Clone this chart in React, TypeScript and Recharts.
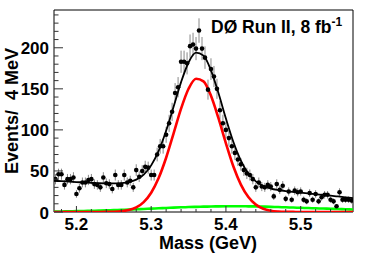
import React from 'react';
import { ComposedChart, Scatter, Line, XAxis, YAxis, ErrorBar, ReferenceArea } from 'recharts';

// Histogram bin centres (GeV), 4 MeV bins
const binCenters = [
  5.172, 5.176, 5.180, 5.184, 5.188, 5.192, 5.196, 5.200, 5.204, 5.208,
  5.212, 5.216, 5.220, 5.224, 5.228, 5.232, 5.236, 5.240, 5.244, 5.248,
  5.252, 5.256, 5.260, 5.264, 5.268, 5.272, 5.276, 5.280, 5.284, 5.288,
  5.292, 5.296, 5.300, 5.304, 5.308, 5.312, 5.316, 5.320, 5.324, 5.328,
  5.332, 5.336, 5.340, 5.344, 5.348, 5.352, 5.356, 5.360, 5.364, 5.368,
  5.372, 5.376, 5.380, 5.384, 5.388, 5.392, 5.396, 5.400, 5.404, 5.408,
  5.412, 5.416, 5.420, 5.424, 5.428, 5.432, 5.436, 5.440, 5.444, 5.448,
  5.452, 5.456, 5.460, 5.464, 5.468, 5.472, 5.476, 5.480, 5.484, 5.488,
  5.492, 5.496, 5.500, 5.504, 5.508, 5.512, 5.516, 5.520, 5.524, 5.528,
  5.532, 5.536, 5.540, 5.544, 5.548, 5.552, 5.556, 5.560, 5.564, 5.568,
];

// Events per bin
const eventCounts = [
  40, 46, 46, 33, 40, 40, 42, 22, 29, 36,
  36, 39, 40, 34, 33, 30, 42, 35, 34, 28,
  45, 33, 33, 45, 36, 38, 30, 51, 43, 50,
  55, 54, 45, 45, 70, 80, 80, 94, 108, 122,
  145, 152, 183, 183, 181, 202, 204, 199, 221, 199,
  188, 149, 174, 165, 150, 124, 108, 100, 90, 80,
  72, 64, 58, 51, 47, 45, 40, 30, 36, 31,
  30, 33, 31, 19, 34, 27, 32, 16, 25, 15,
  26, 24, 25, 15, 13, 23, 15, 22, 13, 18,
  21, 21, 15, 13, 7, 24, 15, 15, 15, 14,
];

// Fit curves sampled every 10 MeV
const curveMass = [
  5.17, 5.18, 5.19, 5.20, 5.21, 5.22, 5.23, 5.24, 5.25, 5.26,
  5.27, 5.28, 5.29, 5.30, 5.31, 5.32, 5.33, 5.34, 5.35, 5.36,
  5.37, 5.38, 5.39, 5.40, 5.41, 5.42, 5.43, 5.44, 5.45, 5.46,
  5.47, 5.48, 5.49, 5.50, 5.51, 5.52, 5.53, 5.54, 5.55, 5.56, 5.57,
];
const totalFit = [
  38.0, 37.5, 37.0, 36.5, 36.0, 35.5, 35.0, 34.8, 34.8, 35.2,
  36.4, 39.4, 45.6, 56.8, 74.4, 98.9, 128.3, 158.2, 182.1, 194.0,
  190.4, 172.5, 144.8, 113.8, 85.2, 62.7, 47.0, 37.3, 31.7, 28.6,
  26.8, 25.5, 24.5, 23.5, 22.6, 21.7, 20.8, 19.9, 18.9, 17.9, 16.9,
];
const signalFit = [
  0, 0, 0, 0, 0, 0, 0, 0.1, 0.3, 0.9,
  2.4, 5.6, 12.1, 23.5, 41.4, 66.1, 95.8, 125.9, 150.1, 162.3,
  159.1, 141.5, 114.2, 83.6, 55.4, 33.4, 18.2, 9.0, 4.0, 1.6,
  0.6, 0.2, 0.1, 0, 0, 0, 0, 0, 0, 0, 0,
];
const backgroundFit = [
  0.5, 0.7, 0.9, 1.1, 1.3, 1.5, 1.7, 2.0, 2.3, 2.6,
  2.9, 3.3, 3.7, 4.1, 4.5, 4.9, 5.3, 5.7, 6.0, 6.3,
  6.5, 6.7, 6.9, 7.0, 7.0, 7.0, 6.9, 6.8, 6.6, 6.3,
  6.0, 5.7, 5.4, 5.1, 4.8, 4.5, 4.2, 3.9, 3.6, 3.3, 3.0,
];

const xMajorTicks = [5.2, 5.3, 5.4, 5.5];
const xTickValues = [5.18, 5.2, 5.22, 5.24, 5.26, 5.28, 5.3, 5.32, 5.34, 5.36, 5.38, 5.4, 5.42, 5.44, 5.46, 5.48, 5.5, 5.52, 5.54, 5.56];
const yMajorTicks = [0, 50, 100, 150, 200];
const yTickValues = [0, 10, 20, 30, 40, 50, 60, 70, 80, 90, 100, 110, 120, 130, 140, 150, 160, 170, 180, 190, 200, 210, 220, 230, 240];

const X_DOMAIN: [number, number] = [5.17, 5.57];
const Y_DOMAIN: [number, number] = [0, 246];

const FONT = '"Liberation Sans", Arial, Helvetica, sans-serif';

const points = binCenters.map((m, i) => ({ m, v: eventCounts[i], err: Math.sqrt(eventCounts[i]) }));
const toCurve = (vals: number[]) => curveMass.map((m, i) => ({ m, v: vals[i] }));
const totalData = toCurve(totalFit);
const signalData = toCurve(signalFit);
const bkgData = toCurve(backgroundFit);

const XTick = (props: any) => {
  const { x, y, payload } = props;
  const major = xMajorTicks.includes(payload.value);
  return (
    <g>
      <line x1={x} x2={x} y1={y} y2={y - (major ? 6 : 3)} stroke="#333" strokeWidth={1} />
      {major && (
        <text x={x} y={y + 18} textAnchor="middle" fontFamily={FONT} fontWeight="bold" fontSize={17} fill="#000">
          {payload.value.toFixed(1)}
        </text>
      )}
    </g>
  );
};

const YTick = (props: any) => {
  const { x, y, payload } = props;
  const major = yMajorTicks.includes(payload.value);
  return (
    <g>
      <line x1={x} x2={x + (major ? 9 : 4.5)} y1={y} y2={y} stroke="#333" strokeWidth={1} />
      {major && (
        <text x={x - 5} y={y + 6.5} textAnchor="end" fontFamily={FONT} fontWeight="bold" fontSize={17} fill="#000">
          {payload.value}
        </text>
      )}
    </g>
  );
};

const Dot = (p: any) => <circle cx={p.cx} cy={p.cy} r={2.3} fill="#000" />;

export default function App() {
  return (
    <div style={{ position: 'absolute', left: 0, top: 0, width: 374, height: 256, background: '#fff' }}>
      <ComposedChart width={374} height={256} margin={{ top: 10, right: 21, bottom: 0, left: 0 }}>
        <XAxis
          dataKey="m"
          type="number"
          domain={X_DOMAIN}
          ticks={xTickValues}
          interval={0}
          tickSize={0}
          tickMargin={0}
          axisLine={false}
          tick={<XTick />}
          height={44}
          allowDataOverflow
        />
        <YAxis
          type="number"
          domain={Y_DOMAIN}
          ticks={yTickValues}
          interval={0}
          tickSize={0}
          tickMargin={0}
          axisLine={false}
          tick={<YTick />}
          width={54}
          allowDataOverflow
        />
        <ReferenceArea x1={5.17} x2={5.57} y1={0} y2={246} fill="none" stroke="#000" strokeWidth={1} ifOverflow="visible" />
        <Scatter data={points} dataKey="v" shape={Dot} isAnimationActive={false}>
          <ErrorBar dataKey="err" direction="y" width={0} stroke="#888" strokeWidth={1} />
        </Scatter>
        <Line data={totalData} dataKey="v" type="monotone" stroke="#000" strokeWidth={1.8} dot={false} activeDot={false} isAnimationActive={false} />
        <Line data={bkgData} dataKey="v" type="monotone" stroke="#00ff00" strokeWidth={2.6} dot={false} activeDot={false} isAnimationActive={false} />
        <Line data={signalData} dataKey="v" type="monotone" stroke="#ff0000" strokeWidth={2.6} dot={false} activeDot={false} isAnimationActive={false} />
      </ComposedChart>
      <svg width={374} height={256} style={{ position: 'absolute', left: 0, top: 0, pointerEvents: 'none' }}>
        <text x={211} y={33} fontFamily={FONT} fontWeight="bold" fontSize={17.5} fill="#000">
          DØ Run II, 8 fb<tspan dy={-7} fontSize={12}>-1</tspan>
        </text>
        <text x={208} y={249} textAnchor="middle" fontFamily={FONT} fontWeight="bold" fontSize={18} fill="#000">
          Mass (GeV)
        </text>
        <text
          transform="translate(17.5,111) rotate(-90)"
          textAnchor="middle"
          fontFamily={FONT}
          fontWeight="bold"
          fontSize={18}
          fill="#000"
          style={{ whiteSpace: 'pre' }}
        >
          Events/  4 MeV
        </text>
      </svg>
    </div>
  );
}
